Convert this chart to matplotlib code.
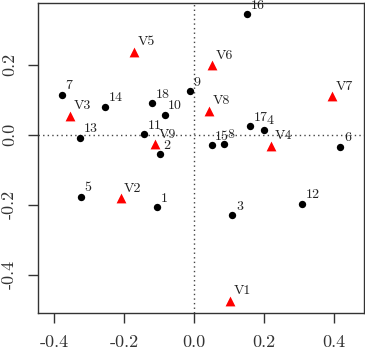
import matplotlib
matplotlib.use("Agg")
import matplotlib.pyplot as plt

plt.rcParams['font.family'] = ['cmr10', 'DejaVu Serif']
plt.rcParams['axes.unicode_minus'] = False

# row points (black dots)
row_labels = ['1', '2', '3', '4', '5', '6', '7', '8', '9', '10',
              '11', '12', '13', '14', '15', '16', '17', '18']
row_x = [-0.106, -0.097, 0.110, 0.199, -0.323, 0.419, -0.377, 0.085, -0.011, -0.084,
         -0.142, 0.310, -0.325, -0.253, 0.051, 0.152, 0.161, -0.120]
row_y = [-0.207, -0.056, -0.230, 0.014, -0.178, -0.034, 0.115, -0.025, 0.124, 0.056,
         0.001, -0.197, -0.009, 0.080, -0.030, 0.344, 0.024, 0.090]

# column points (red triangles)
col_labels = ['V1', 'V2', 'V3', 'V4', 'V5', 'V6', 'V7', 'V8', 'V9']
col_x = [0.103, -0.210, -0.354, 0.220, -0.170, 0.053, 0.396, 0.043, -0.110]
col_y = [-0.474, -0.181, 0.055, -0.031, 0.237, 0.199, 0.110, 0.069, -0.027]

xticks = [-0.4, -0.2, 0.0, 0.2, 0.4]
yticks = [-0.4, -0.2, 0.0, 0.2]

fig = plt.figure(figsize=(3.65, 3.49), dpi=100)
ax = fig.add_axes([0.105, 0.103, 0.892, 0.888])

ax.axhline(0, color='#444444', linestyle=(0, (1, 2.3)), linewidth=1.0, zorder=1)
ax.axvline(0, color='#444444', linestyle=(0, (1, 2.3)), linewidth=1.0, zorder=1)

ax.scatter(row_x, row_y, s=28, color='black', zorder=3, linewidths=0)
ax.scatter(col_x, col_y, s=50, color='red', marker='^', zorder=3, linewidths=0)

for lab, x, y in zip(row_labels, row_x, row_y):
    ax.annotate(lab, (x, y), xytext=(2.5, 2), textcoords='offset points',
                ha='left', va='bottom', fontsize=10, color='#222222')
for lab, x, y in zip(col_labels, col_x, col_y):
    ax.annotate(lab, (x, y), xytext=(2.5, 2.5), textcoords='offset points',
                ha='left', va='bottom', fontsize=10, color='#222222')

ax.set_xlim(-0.445, 0.486)
ax.set_ylim(-0.509, 0.376)
ax.set_xticks(xticks)
ax.set_yticks(yticks)
ax.set_xticklabels(['%.1f' % t for t in xticks])
ax.set_yticklabels(['%.1f' % t for t in yticks], rotation=90, va='center')
ax.tick_params(direction='out', length=7.5, width=1.0, labelsize=13,
               colors='#333333', pad=8)
for sp in ax.spines.values():
    sp.set_color('#333333')
    sp.set_linewidth(1.0)

fig.savefig('out.png', dpi=100)
